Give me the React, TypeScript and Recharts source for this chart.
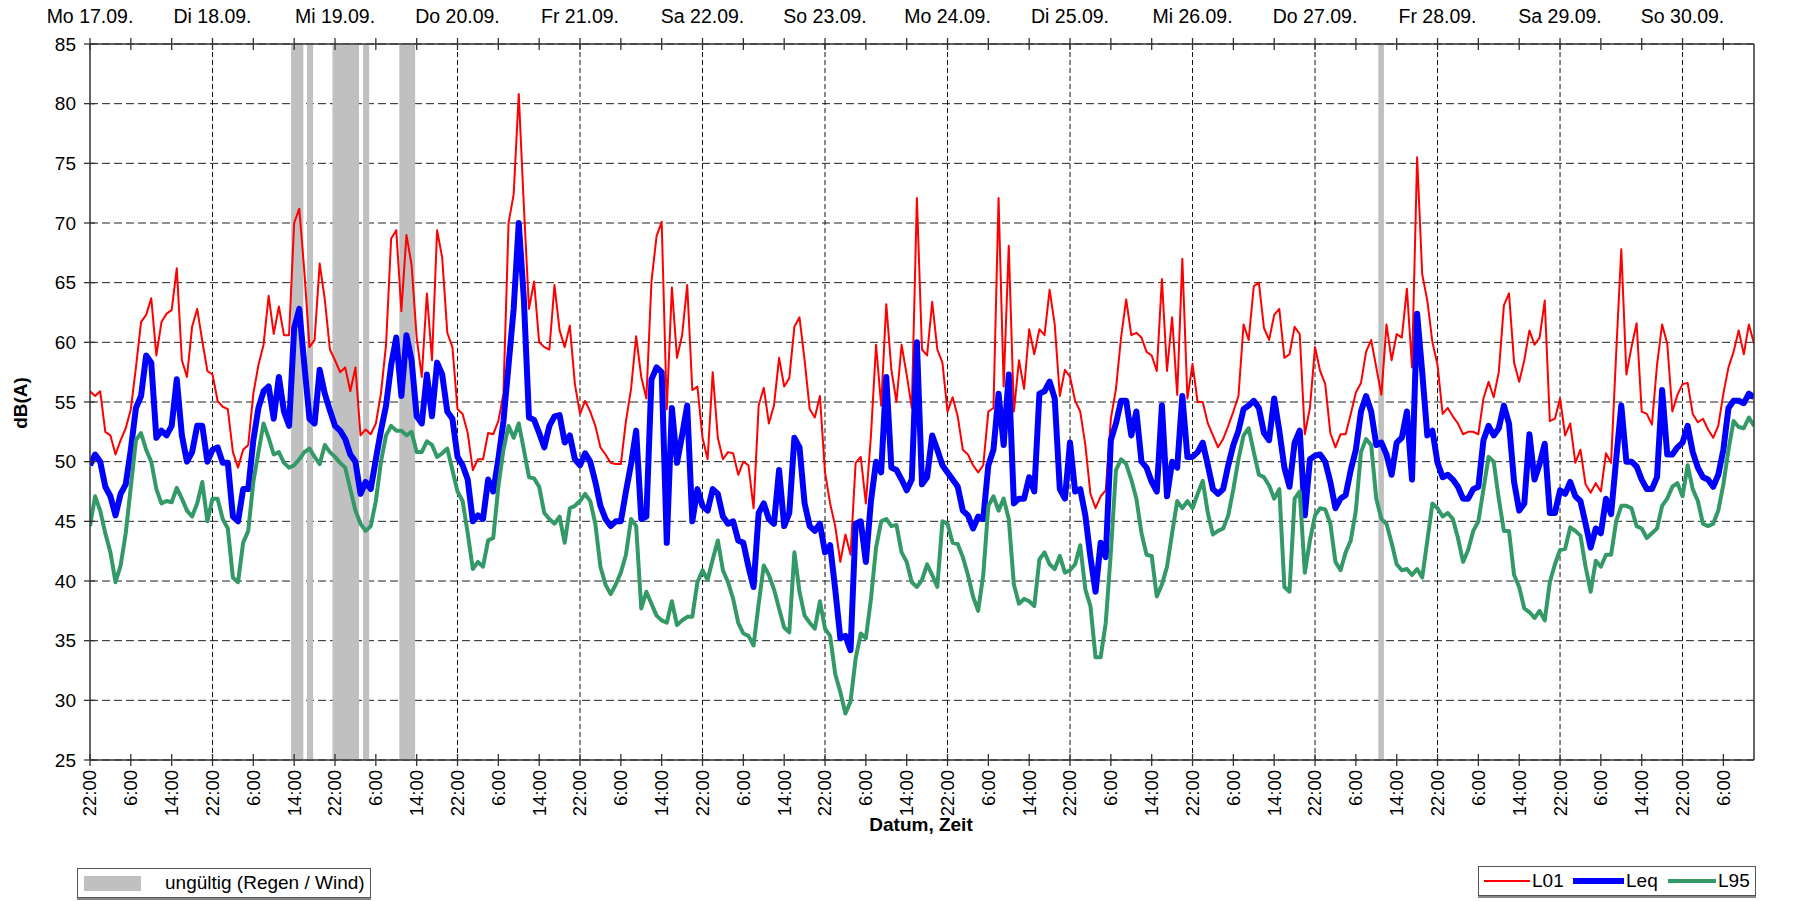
import React from "react";
import { LineChart, Line, XAxis, YAxis, CartesianGrid, ReferenceArea } from "recharts";

const FONT = '"Liberation Sans", Arial, sans-serif';

const dayLabels = ["Mo 17.09.", "Di 18.09.", "Mi 19.09.", "Do 20.09.", "Fr 21.09.", "Sa 22.09.", "So 23.09.", "Mo 24.09.", "Di 25.09.", "Mi 26.09.", "Do 27.09.", "Fr 28.09.", "Sa 29.09.", "So 30.09."];
const timeOfDayLabels = ["22:00", "6:00", "14:00"];
const xDomain = [0, 326];
const xTicks = [0, 8, 16, 24, 32, 40, 48, 56, 64, 72, 80, 88, 96, 104, 112, 120, 128, 136, 144, 152, 160, 168, 176, 184, 192, 200, 208, 216, 224, 232, 240, 248, 256, 264, 272, 280, 288, 296, 304, 312, 320];
const dayLines = [24, 48, 72, 96, 120, 144, 168, 192, 216, 240, 264, 288, 312];
const yTicks = [25, 30, 35, 40, 45, 50, 55, 60, 65, 70, 75, 80, 85];
const invalidFrom = [39.4, 42.5, 47.5, 53.5, 60.6, 252.4];
const invalidTo = [41.8, 43.7, 52.7, 54.7, 63.7, 253.5];

const l01 = [
  55.9, 55.5, 55.9, 52.5, 52.2, 50.6, 51.8, 52.8, 54.4, 57.9,
  61.7, 62.3, 63.7, 58.9, 61.7, 62.4, 62.7, 66.2, 58.5, 57.1,
  61.3, 62.8, 60.1, 57.6, 57.3, 55.1, 54.6, 54.4, 50.8, 49.5,
  51.0, 51.4, 55.7, 58.1, 59.8, 63.9, 60.7, 63.0, 60.6, 60.6,
  70.0, 71.2, 65.9, 59.6, 60.2, 66.6, 63.6, 59.4, 58.5, 57.5,
  57.9, 55.9, 57.9, 52.2, 52.7, 52.3, 53.2, 55.7, 59.8, 68.7,
  69.4, 62.6, 69.0, 66.5, 60.4, 57.1, 64.1, 58.5, 69.4, 67.1,
  60.8, 59.6, 54.4, 54.0, 52.4, 49.3, 50.2, 50.2, 52.4, 52.3,
  53.4, 55.7, 70.0, 72.4, 80.8, 71.4, 62.8, 65.1, 60.0, 59.6,
  59.4, 64.8, 61.0, 59.6, 61.4, 56.5, 54.0, 55.1, 54.2, 53.0,
  51.2, 50.6, 49.9, 49.8, 49.8, 53.4, 56.1, 60.5, 57.1, 55.3,
  65.1, 68.9, 70.1, 54.4, 64.6, 58.7, 60.6, 64.8, 56.0, 56.3,
  52.0, 50.2, 57.5, 52.0, 50.2, 50.8, 50.7, 48.9, 50.0, 49.7,
  46.1, 54.7, 56.2, 53.2, 54.7, 58.7, 56.3, 57.0, 61.3, 62.1,
  58.5, 54.4, 53.7, 55.5, 49.1, 46.5, 44.6, 41.6, 43.9, 42.2,
  49.9, 50.4, 46.5, 52.2, 59.8, 54.7, 63.2, 57.7, 55.0, 59.8,
  57.3, 54.5, 72.1, 59.4, 58.9, 63.4, 59.4, 58.3, 54.2, 55.4,
  53.8, 51.0, 50.6, 49.7, 49.1, 49.7, 54.2, 54.5, 72.1, 56.3,
  68.1, 54.2, 58.5, 56.1, 61.1, 59.0, 61.1, 60.6, 64.4, 61.5,
  55.5, 57.7, 57.1, 55.1, 54.2, 51.4, 47.3, 46.1, 47.1, 47.6,
  53.6, 56.1, 60.4, 63.6, 60.6, 60.8, 60.4, 59.2, 58.9, 57.6,
  65.3, 57.6, 62.1, 55.6, 67.0, 55.3, 58.2, 55.0, 55.0, 53.2,
  52.2, 51.2, 51.9, 53.0, 54.2, 55.5, 61.5, 60.2, 64.7, 65.0,
  61.2, 60.2, 62.3, 62.8, 58.7, 59.0, 61.3, 60.7, 52.3, 54.5,
  59.6, 57.6, 56.5, 52.4, 51.2, 52.3, 52.3, 54.0, 55.8, 56.6,
  59.2, 60.2, 57.9, 55.6, 61.5, 58.5, 60.7, 60.4, 64.5, 57.9,
  75.5, 65.7, 63.5, 60.0, 58.1, 54.0, 54.5, 53.8, 53.2, 52.3,
  52.5, 52.5, 52.3, 55.3, 56.7, 55.4, 57.5, 63.1, 64.1, 58.3,
  56.7, 58.5, 61.0, 59.8, 60.4, 63.5, 53.4, 53.6, 55.3, 52.2,
  53.2, 49.9, 51.0, 48.1, 47.4, 48.2, 47.5, 50.7, 49.9, 59.1,
  67.8, 57.3, 59.6, 61.6, 54.2, 54.0, 53.1, 58.1, 61.5, 59.9,
  54.2, 55.6, 56.5, 56.6, 54.0, 53.3, 53.6, 52.7, 52.0, 53.0,
  55.7, 57.9, 59.2, 61.0, 59.0, 61.5, 59.9,
];

const leq = [
  49.7, 50.6, 50.0, 47.9, 47.1, 45.5, 47.3, 48.1, 51.0, 54.5,
  55.5, 58.9, 58.3, 52.0, 52.6, 52.2, 53.0, 56.9, 52.2, 50.0,
  50.8, 53.0, 53.0, 50.0, 51.0, 51.2, 49.9, 49.9, 45.4, 45.0,
  47.7, 47.7, 51.8, 54.5, 55.9, 56.3, 53.6, 57.1, 54.2, 53.0,
  61.2, 62.8, 58.1, 53.6, 53.2, 57.7, 55.7, 54.3, 53.0, 52.6,
  51.9, 50.6, 50.0, 47.3, 48.3, 47.7, 50.2, 52.6, 54.7, 58.1,
  60.4, 55.5, 60.6, 58.5, 53.8, 53.2, 57.3, 53.8, 58.3, 57.3,
  54.2, 53.6, 50.4, 49.7, 48.5, 45.0, 45.5, 45.2, 48.5, 47.5,
  50.2, 53.4, 58.1, 62.8, 70.0, 63.6, 53.7, 53.5, 52.4, 51.2,
  53.0, 53.8, 53.9, 51.6, 52.2, 50.2, 49.7, 50.7, 50.0, 48.3,
  46.3, 45.2, 44.6, 45.0, 45.0, 47.5, 49.8, 52.6, 45.2, 45.4,
  56.9, 57.9, 57.5, 43.2, 54.5, 49.9, 52.2, 54.7, 45.0, 47.7,
  46.3, 45.9, 47.7, 47.3, 45.4, 44.8, 45.0, 43.4, 43.2, 41.2,
  39.5, 45.7, 46.5, 45.2, 44.8, 49.3, 44.6, 45.7, 52.0, 51.2,
  46.5, 44.6, 44.2, 44.8, 42.4, 43.0, 39.3, 35.2, 35.4, 34.2,
  44.8, 45.0, 41.6, 46.7, 50.0, 49.1, 57.1, 49.5, 49.3, 48.5,
  47.6, 48.5, 60.0, 48.1, 48.7, 52.2, 51.0, 49.7, 49.1, 48.5,
  47.9, 45.9, 45.5, 44.4, 45.4, 45.2, 49.7, 51.0, 55.7, 51.4,
  57.3, 46.5, 46.9, 46.9, 48.7, 47.5, 55.7, 55.9, 56.7, 55.3,
  47.7, 46.9, 51.6, 47.5, 47.7, 45.5, 42.0, 39.1, 43.2, 42.0,
  51.8, 53.2, 55.1, 55.1, 52.2, 54.2, 50.0, 49.5, 48.3, 47.5,
  54.7, 47.1, 50.0, 49.5, 55.5, 50.4, 50.4, 50.8, 51.6, 49.7,
  47.7, 47.3, 47.7, 49.7, 51.4, 52.6, 54.4, 54.7, 55.1, 54.5,
  52.4, 51.8, 55.3, 52.6, 49.5, 47.9, 51.6, 52.6, 45.5, 50.2,
  50.5, 50.6, 50.0, 48.3, 46.1, 46.9, 47.2, 49.3, 51.0, 54.2,
  55.5, 54.2, 51.4, 51.6, 50.6, 48.9, 51.6, 52.0, 54.2, 48.5,
  62.4, 57.5, 52.2, 52.6, 49.9, 48.7, 48.9, 48.5, 47.9, 46.9,
  46.9, 47.7, 47.9, 51.8, 53.0, 52.2, 52.8, 54.7, 53.2, 48.3,
  45.9, 46.5, 52.3, 48.5, 49.8, 51.5, 45.7, 45.7, 47.6, 47.3,
  48.3, 47.1, 46.7, 44.8, 42.8, 44.4, 44.0, 46.9, 45.6, 50.2,
  54.7, 50.0, 50.0, 49.6, 48.5, 47.7, 47.7, 48.7, 56.0, 50.6,
  50.6, 51.2, 51.6, 53.0, 50.8, 49.5, 48.7, 48.5, 47.9, 48.9,
  51.0, 54.5, 55.1, 55.1, 54.9, 55.7, 55.4,
];

const l95 = [
  44.6, 47.1, 45.9, 44.0, 42.4, 39.9, 41.3, 44.0, 47.9, 51.8,
  52.4, 51.0, 50.0, 47.7, 46.5, 46.7, 46.6, 47.8, 46.9, 45.9,
  45.4, 46.5, 48.3, 45.0, 46.9, 46.9, 45.2, 44.4, 40.3, 39.9,
  43.2, 44.2, 48.3, 50.8, 53.2, 52.0, 50.6, 50.8, 49.9, 49.5,
  49.7, 50.2, 50.8, 51.1, 50.4, 49.8, 51.4, 50.8, 50.4, 49.9,
  49.5, 47.7, 45.9, 44.8, 44.2, 44.6, 46.7, 50.0, 52.2, 53.0,
  52.6, 52.6, 52.2, 52.5, 50.8, 50.8, 51.7, 51.4, 50.4, 50.7,
  51.1, 49.3, 47.5, 46.7, 44.0, 41.0, 41.6, 41.2, 43.4, 43.6,
  47.9, 51.0, 53.0, 52.0, 53.2, 51.0, 48.7, 48.6, 47.9, 45.7,
  45.2, 44.8, 45.4, 43.2, 46.1, 46.3, 46.7, 47.3, 46.7, 44.8,
  41.2, 39.7, 38.9, 39.7, 40.7, 42.2, 45.2, 44.6, 37.7, 39.1,
  38.1, 37.1, 36.7, 36.5, 38.3, 36.3, 36.7, 37.0, 37.0, 39.9,
  40.9, 40.1, 41.8, 43.4, 40.9, 39.9, 38.5, 36.5, 35.6, 35.4,
  34.6, 38.1, 41.3, 40.5, 39.3, 37.7, 36.1, 35.7, 42.4, 39.1,
  37.1, 36.5, 36.0, 38.3, 36.0, 35.4, 32.2, 30.7, 28.9, 29.9,
  33.5, 35.6, 35.2, 38.5, 42.8, 45.0, 45.2, 44.6, 44.7, 42.4,
  41.6, 39.9, 39.5, 40.1, 41.4, 40.5, 39.5, 45.0, 44.8, 43.2,
  43.1, 42.0, 40.5, 38.7, 37.5, 40.5, 46.3, 47.1, 45.9, 46.9,
  45.2, 39.7, 38.1, 38.5, 38.3, 37.9, 41.8, 42.4, 41.4, 41.0,
  42.1, 40.7, 40.9, 41.4, 43.0, 39.3, 37.9, 33.6, 33.6, 36.5,
  42.4, 49.3, 50.2, 49.8, 48.5, 46.9, 44.0, 42.2, 42.1, 38.7,
  39.7, 41.2, 44.0, 46.7, 46.1, 46.7, 46.1, 47.3, 48.4, 45.7,
  43.9, 44.2, 44.4, 45.5, 47.7, 50.2, 52.2, 52.8, 50.8, 48.9,
  48.7, 48.0, 46.9, 47.7, 39.5, 39.1, 46.9, 47.5, 40.7, 43.4,
  45.5, 46.1, 46.0, 44.8, 41.6, 40.9, 42.4, 43.4, 45.9, 50.8,
  51.9, 51.4, 46.9, 45.2, 44.8, 43.2, 41.4, 40.9, 41.0, 40.5,
  41.0, 40.3, 43.4, 46.5, 46.1, 45.4, 45.7, 45.2, 43.6, 41.6,
  42.6, 44.2, 45.0, 47.7, 50.4, 50.0, 46.9, 44.2, 44.2, 40.5,
  39.5, 37.7, 37.4, 36.9, 37.5, 36.7, 39.9, 41.4, 42.6, 42.7,
  44.5, 44.2, 43.8, 41.2, 39.1, 41.7, 41.2, 42.2, 42.2, 45.0,
  46.3, 46.3, 46.1, 44.6, 44.4, 43.6, 44.0, 44.4, 46.3, 46.9,
  47.9, 48.2, 47.1, 49.7, 47.7, 46.7, 44.8, 44.6, 44.8, 45.9,
  48.1, 51.0, 53.4, 52.9, 52.8, 53.7, 53.0,
];

const data = l01.map((v, i) => ({ h: i, l01: v, leq: leq[i], l95: l95[i] }));

const AXIS_COLOR = "#333";

const BottomTick = (props: any) => {
  const { x, y, payload } = props;
  const label = timeOfDayLabels[Math.round(payload.value / 8) % 3];
  const ty = y + 10;
  return (
    <g>
      <line x1={x} x2={x} y1={y - 6} y2={y + 6} stroke={AXIS_COLOR} strokeWidth={1.3} />
      <text x={x} y={ty} transform={`rotate(-90 ${x} ${ty})`} textAnchor="end" dy="0.35em" fontSize={18.5} fontFamily={FONT} fill="#000">
        {label}
      </text>
    </g>
  );
};

const TopTick = (props: any) => {
  const { x, y, payload } = props;
  const v = payload.value;
  const isDay = v % 24 === 0;
  return (
    <g>
      <line x1={x} x2={x} y1={y - 6} y2={y + 6} stroke={AXIS_COLOR} strokeWidth={1.3} />
      {isDay ? (
        <text x={x} y={23} textAnchor="middle" fontSize={19.5} fontFamily={FONT} fill="#000">
          {dayLabels[v / 24]}
        </text>
      ) : null}
    </g>
  );
};

const LeftTick = (props: any) => {
  const { x, y, payload } = props;
  return (
    <g>
      <line x1={x - 6} x2={x + 5} y1={y} y2={y} stroke={AXIS_COLOR} strokeWidth={1.3} />
      <text x={x - 14} y={y} dy="0.35em" textAnchor="end" fontSize={19} fontFamily={FONT} fill="#000">
        {payload.value}
      </text>
    </g>
  );
};

const RightTick = (props: any) => {
  const { x, y, payload } = props;
  return (
    <g>
      <line x1={x - 5} x2={x + 6} y1={y} y2={y} stroke={AXIS_COLOR} strokeWidth={1.3} />
      <text x={x + 11} y={y} dy="0.35em" textAnchor="start" fontSize={19} fontFamily={FONT} fill="#000">
        {payload.value}
      </text>
    </g>
  );
};

// Vertical grid lines only at the daily 22:00 positions.
const dayGridPoints = (args: any) => {
  const scale = args && args.xAxis ? args.xAxis.scale : null;
  if (typeof scale === "function") return dayLines.map((d) => scale(d));
  if (scale && typeof scale.map === "function") return dayLines.map((d) => scale.map(d));
  const off = (args && args.offset) || { left: 90, width: 1664 };
  return dayLines.map((d) => off.left + ((d - xDomain[0]) / (xDomain[1] - xDomain[0])) * off.width);
};

export default function App() {
  return (
    <div style={{ position: "absolute", left: 0, top: 0, width: 1805, height: 901, background: "#fff", fontFamily: FONT, overflow: "hidden" }}>
      <LineChart width={1805} height={901} data={data} margin={{ top: 0, right: 0, bottom: 0, left: 0 }}>
        <CartesianGrid vertical={false} stroke="#222" strokeDasharray="8 4" strokeWidth={1} />
        <CartesianGrid horizontal={false} stroke="#111" strokeDasharray="5 3" strokeWidth={1} verticalCoordinatesGenerator={dayGridPoints} />
        {invalidFrom.map((x1, i) => (
          <ReferenceArea key={"inv" + i} x1={x1} x2={invalidTo[i]} y1={25} y2={85} fill="#c0c0c0" fillOpacity={1} stroke="none" />
        ))}
        <XAxis
          dataKey="h"
          type="number"
          domain={xDomain}
          ticks={xTicks}
          interval={0}
          allowDataOverflow
          height={141}
          tickSize={0}
          tickMargin={0}
          tick={<BottomTick />}
          axisLine={{ stroke: AXIS_COLOR, strokeWidth: 1.5 }}
          tickLine={false}
        />
        <XAxis
          xAxisId="top"
          orientation="top"
          dataKey="h"
          type="number"
          domain={xDomain}
          ticks={xTicks}
          interval={0}
          allowDataOverflow
          height={44}
          tickSize={0}
          tickMargin={0}
          tick={<TopTick />}
          axisLine={{ stroke: AXIS_COLOR, strokeWidth: 1.5 }}
          tickLine={false}
        />
        <YAxis
          type="number"
          domain={[25, 85]}
          ticks={yTicks}
          interval={0}
          width={90}
          tickSize={0}
          tickMargin={0}
          tick={<LeftTick />}
          axisLine={{ stroke: AXIS_COLOR, strokeWidth: 1.5 }}
          tickLine={false}
        />
        <YAxis
          yAxisId="right"
          orientation="right"
          type="number"
          domain={[25, 85]}
          ticks={yTicks}
          interval={0}
          width={51}
          tickSize={0}
          tickMargin={0}
          tick={<RightTick />}
          axisLine={{ stroke: AXIS_COLOR, strokeWidth: 1.5 }}
          tickLine={false}
        />
        <Line type="linear" dataKey="l01" stroke="#ff0000" strokeWidth={2} dot={false} activeDot={false} isAnimationActive={false} strokeLinejoin="round" />
        <Line type="linear" dataKey="leq" stroke="#0000ff" strokeWidth={6} dot={false} activeDot={false} isAnimationActive={false} strokeLinejoin="round" />
        <Line type="linear" dataKey="l95" stroke="#339966" strokeWidth={4} dot={false} activeDot={false} isAnimationActive={false} strokeLinejoin="round" />
      </LineChart>

      <div style={{ position: "absolute", left: 21, top: 403, transform: "translate(-50%, -50%) rotate(-90deg)", fontWeight: "bold", fontSize: 19, whiteSpace: "nowrap" }}>
        dB(A)
      </div>
      <div style={{ position: "absolute", left: 921, top: 825, transform: "translate(-50%, -50%)", fontWeight: "bold", fontSize: 19, whiteSpace: "nowrap" }}>
        Datum, Zeit
      </div>

      <div style={{ position: "absolute", left: 77, top: 868, width: 294, height: 30, border: "1px solid #555", boxShadow: "0 2px 0 #888", background: "#fff", boxSizing: "border-box" }}>
        <div style={{ position: "absolute", left: 6, top: 7, width: 57, height: 15, background: "#c0c0c0" }} />
        <div style={{ position: "absolute", left: 87, top: 0, lineHeight: "28px", fontSize: 19, whiteSpace: "nowrap" }}>ungültig (Regen / Wind)</div>
      </div>

      <div style={{ position: "absolute", left: 1478, top: 866, width: 278, height: 30, border: "1px solid #555", boxShadow: "0 2px 0 #888", background: "#fff", boxSizing: "border-box" }}>
        <div style={{ position: "absolute", left: 5, top: 13, width: 46, height: 2, background: "#ff0000" }} />
        <div style={{ position: "absolute", left: 53, top: 0, lineHeight: "28px", fontSize: 19 }}>L01</div>
        <div style={{ position: "absolute", left: 94, top: 11, width: 51, height: 6, background: "#0000ff" }} />
        <div style={{ position: "absolute", left: 147, top: 0, lineHeight: "28px", fontSize: 19 }}>Leq</div>
        <div style={{ position: "absolute", left: 189, top: 12, width: 48, height: 4, background: "#339966" }} />
        <div style={{ position: "absolute", left: 239, top: 0, lineHeight: "28px", fontSize: 19 }}>L95</div>
      </div>
    </div>
  );
}
